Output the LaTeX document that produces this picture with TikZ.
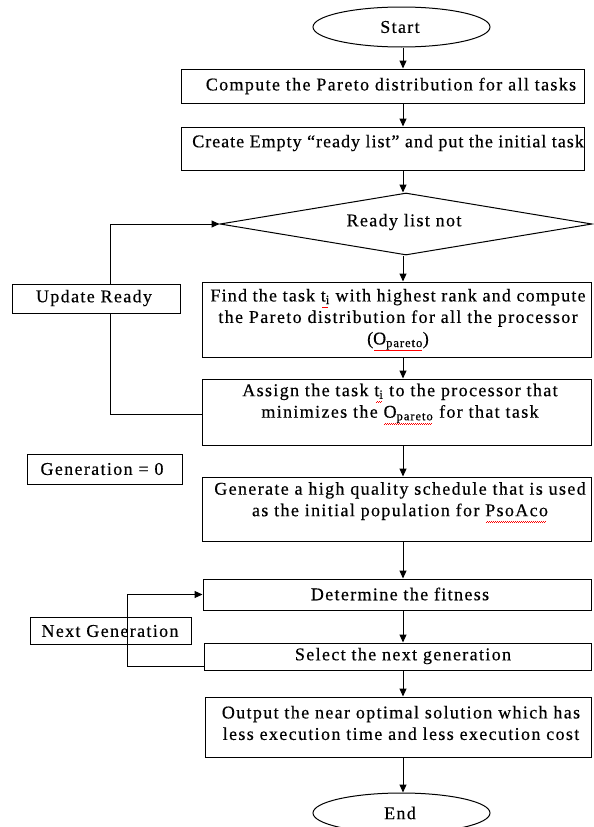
\documentclass[tikz,border=0pt]{standalone}
\usepackage{fontspec}
\setmainfont{Liberation Serif}[LetterSpace=7.5,FakeBold=0.4]
\usetikzlibrary{shapes.geometric,arrows.meta}
\newsavebox\wavebox
\newcommand\redwave[1]{\sbox\wavebox{#1}\leavevmode\rlap{\usebox\wavebox}\textcolor{red}{\leaders\hbox{\rule[-6.6pt]{1pt}{0.7pt}\rule[-5.9pt]{1pt}{0.7pt}}\hskip\wd\wavebox}}
\begin{document}
\begin{tikzpicture}[x=1pt,y=-1pt,
  box/.style={draw, line width=1pt, inner sep=0pt, fill=white},
  txt/.style={align=center, inner sep=0pt, font=\fontsize{18pt}{21.5pt}\selectfont},
  arr/.style={line width=1pt, -{Triangle[length=8pt,width=7pt]}},
  ln/.style={line width=1pt}]
\useasboundingbox (0,0) rectangle (594,827);
% shapes
\node[box, ellipse, minimum width=177pt, minimum height=40pt] (start) at (401.5,27) {};
\node[box, minimum width=403pt, minimum height=34pt] (b1) at (382.5,86) {};
\node[box, minimum width=403pt, minimum height=43pt] (b2) at (382.5,148.5) {};
\node[box, diamond, minimum width=372pt, minimum height=62pt] (dia) at (406,224) {};
\node[box, minimum width=389pt, minimum height=75pt] (b3) at (396.5,319.5) {};
\node[box, minimum width=389pt, minimum height=66pt] (b4) at (396.5,412) {};
\node[box, minimum width=389pt, minimum height=64pt] (b5) at (396.5,509) {};
\node[box, minimum width=388pt, minimum height=31pt] (b6) at (397,594.5) {};
\node[box, minimum width=387pt, minimum height=27pt] (b7) at (397.5,656.5) {};
\node[box, minimum width=386pt, minimum height=60pt] (b8) at (398,727) {};
\node[box, ellipse, minimum width=177pt, minimum height=40pt] (end) at (401.5,813) {};
\node[box, minimum width=168pt, minimum height=29pt] (upd) at (96,298.5) {};
\node[box, minimum width=155pt, minimum height=30pt] (gen) at (104.5,469) {};
\node[draw, line width=1pt, inner sep=0pt, minimum width=161pt, minimum height=27pt] (nxt) at (110.5,630.5) {};
% texts
\node[txt] (tstart) at (400,27) {Start};
\node[txt] (t1) at (391,86) {Compute the Pareto distribution for all tasks};
\node[txt] (t2) at (388,143) {\addfontfeature{LetterSpace=5.5}Create Empty “ready list” and put the initial task};
\node[txt] (tdia) at (404,222) {Ready list not};
\node[txt] (t3) at (398,320) {\addfontfeature{LetterSpace=6.5}Find the task \redwave{t\textsubscript{i}} with highest rank and compute\\the Pareto distribution for all the processor\\(\redwave{O\textsubscript{pareto}})};
\node[txt] (t4) at (400,404) {Assign the task \redwave{t\textsubscript{i}} to the processor that\\minimizes the \redwave{O\textsubscript{pareto}} for that task};
\node[txt] (t5) at (400,502.5) {Generate a high quality schedule that is used\\as the initial population for \redwave{PsoAco}};
\node[txt] (t6) at (400,594) {Determine the fitness};
\node[txt] (t7) at (403,656) {Select the next generation};
\node[txt] (t8) at (401,723) {Output the near optimal solution which has\\less execution time and less execution cost};
\node[txt] (tend) at (400,813) {End};
\node[txt] (tupd) at (94,298) {Update Ready};
\node[txt] (tgen) at (102,469) {Generation = 0};
\node[txt] (tnxt) at (110,631) {Next Generation};
% connectors
\coordinate (col) at (403,0);
\draw[arr] (start.south -| col) -- (b1.north -| col);
\draw[arr] (b1.south -| col) -- (b2.north -| col);
\draw[arr] (b2.south -| col) -- (dia.north -| col);
\draw[arr] (dia.south -| col) -- (b3.north -| col);
\draw[arr] (b3.south -| col) -- (b4.north -| col);
\draw[arr] (b4.south -| col) -- (b5.north -| col);
\draw[arr] (b5.south -| col) -- (b6.north -| col);
\draw[arr] (b6.south -| col) -- (b7.north -| col);
\draw[arr] (b7.south -| col) -- (b8.north -| col);
\draw[arr] (b8.south -| col) -- (end.north -| col);
% loop 1
\coordinate (l1) at (110,414);
\draw[ln] (b4.west |- l1) -- (l1) -- (l1 |- upd.south);
\draw[arr] (l1 |- upd.north) -- (l1 |- dia.west) -- (dia.west);
% loop 2
\coordinate (l2) at (127,666);
\draw[arr] (b7.west |- l2) -- (l2) -- (l2 |- b6.west) -- (b6.west);
\end{tikzpicture}
\end{document}
